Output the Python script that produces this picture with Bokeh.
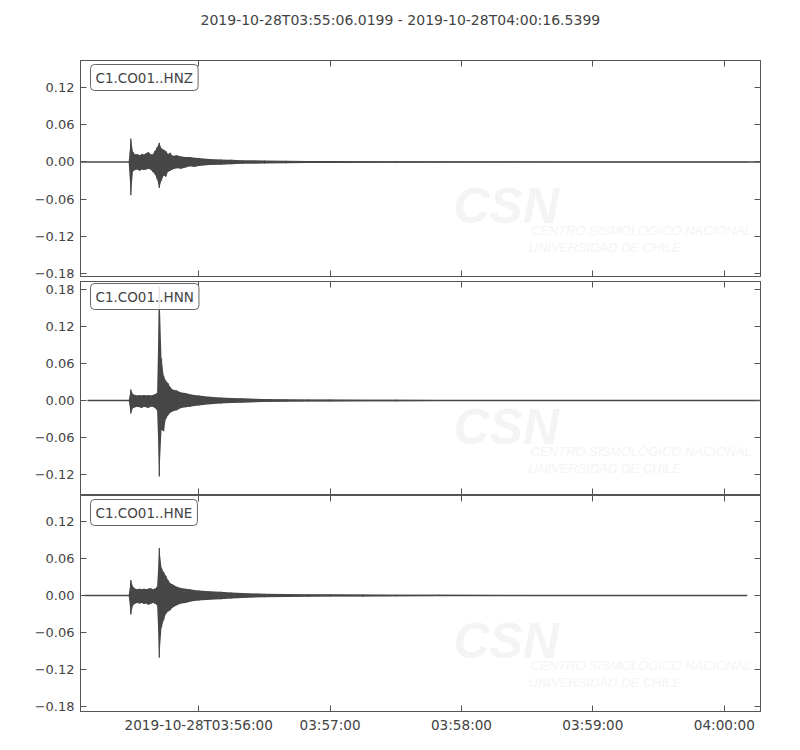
from bokeh.plotting import figure
from bokeh.models import (Range1d, FixedTicker, LinearAxis, Label,
                          CustomJSTickFormatter)
from bokeh.layouts import column
from bokeh.embed import file_html
from bokeh.resources import INLINE

# ---------------- data ----------------
title_text = "2019-10-28T03:55:06.0199  -  2019-10-28T04:00:16.5399"
channels = ["C1.CO01..HNZ", "C1.CO01..HNN", "C1.CO01..HNE"]

# time axis: seconds after 2019-10-28T03:55:00
t_start = 6.0199
t_end = 316.5399
trace_starts = [6.02, 9.2, 7.9]
trace_ends = [316.54, 316.54, 310.5]

x_tick_values = [60, 120, 180, 240, 300]
x_tick_labels = ["2019-10-28T03:56:00", "03:57:00", "03:58:00", "03:59:00", "04:00:00"]
y_tick_values = [-0.18, -0.12, -0.06, 0.0, 0.06, 0.12, 0.18]
y_limits = [(-0.1855, 0.1644), (-0.1523, 0.1928), (-0.188, 0.162)]

# min / max envelope of each trace (m/s^2) at these times
env_t = [28, 29, 30, 31, 32, 33, 34, 35, 36, 37, 38, 39, 40, 41, 42, 43, 44, 45, 46, 47, 48,
         50, 52, 54, 56, 58, 60,
         65, 70, 75, 80, 90, 100, 110, 120, 135, 150, 170, 200, 250, 310]

hnz_upper = [0, 0.038, 0.016, 0.012, 0.013, 0.011, 0.013, 0.012, 0.014, 0.016, 0.013, 0.012, 0.018, 0.024, 0.031, 0.022, 0.020, 0.018, 0.013, 0.015, 0.010,
             0.011, 0.009, 0.008, 0.008, 0.007, 0.0065,
             0.005, 0.004, 0.0035, 0.003, 0.0025, 0.002, 0.0018, 0.0015, 0.0012, 0.001, 0.0008, 0.0006, 0.0005, 0.0004]
hnz_lower = [0, -0.054, -0.015, -0.013, -0.012, -0.014, -0.012, -0.013, -0.012, -0.011, -0.012, -0.016, -0.020, -0.028, -0.042, -0.030, -0.022, -0.024, -0.016, -0.014, -0.012,
             -0.010, -0.011, -0.009, -0.007, -0.008, -0.0065,
             -0.005, -0.0045, -0.0035, -0.003, -0.0025, -0.002, -0.0018, -0.0015, -0.0012, -0.001, -0.0008, -0.0006, -0.0005, -0.0004]

hnn_upper = [0, 0.018, 0.010, 0.009, 0.008, 0.009, 0.008, 0.009, 0.008, 0.009, 0.008, 0.009, 0.010, 0.012, 0.185, 0.068, 0.040, 0.032, 0.028, 0.022, 0.018,
             0.016, 0.013, 0.012, 0.010, 0.009, 0.008,
             0.006, 0.005, 0.004, 0.0035, 0.0025, 0.002, 0.0018, 0.0015, 0.0013, 0.0011, 0.0009, 0.0007, 0.0005, 0.0004]
hnn_lower = [0, -0.021, -0.012, -0.011, -0.010, -0.011, -0.012, -0.010, -0.011, -0.012, -0.010, -0.010, -0.012, -0.016, -0.123, -0.048, -0.050, -0.030, -0.024, -0.020, -0.018,
             -0.016, -0.012, -0.011, -0.010, -0.009, -0.008,
             -0.006, -0.005, -0.004, -0.0035, -0.0025, -0.002, -0.0018, -0.0015, -0.0013, -0.0011, -0.0009, -0.0007, -0.0005, -0.0004]

hne_upper = [0, 0.025, 0.014, 0.011, 0.010, 0.011, 0.010, 0.011, 0.010, 0.011, 0.012, 0.010, 0.011, 0.014, 0.077, 0.045, 0.038, 0.032, 0.025, 0.020, 0.018,
             0.014, 0.012, 0.011, 0.010, 0.009, 0.008,
             0.007, 0.006, 0.005, 0.004, 0.003, 0.0025, 0.002, 0.0018, 0.0015, 0.0012, 0.001, 0.0008, 0.0006, 0.0005]
hne_lower = [0, -0.031, -0.016, -0.013, -0.012, -0.013, -0.012, -0.014, -0.013, -0.015, -0.014, -0.012, -0.013, -0.016, -0.101, -0.052, -0.040, -0.030, -0.026, -0.024, -0.020,
             -0.016, -0.013, -0.012, -0.010, -0.009, -0.008,
             -0.007, -0.006, -0.005, -0.004, -0.003, -0.0025, -0.002, -0.0018, -0.0015, -0.0012, -0.001, -0.0008, -0.0006, -0.0005]

uppers = [hnz_upper, hnn_upper, hne_upper]
lowers = [hnz_lower, hnn_lower, hne_lower]

watermark_logo = "CSN"
watermark_line1 = "CENTRO SISMOLÓGICO NACIONAL"
watermark_line2 = "UNIVERSIDAD DE CHILE"

# ---------------- style ----------------
FONT = "DejaVu Sans"
TEXT = "#444444"
FRAME = "#555555"
WAVE = "#474747"
WM = "#f4f4f4"
FRAME_W = 680
FRAME_HS = [216, 213, 216]
BORDER_TOP = [60, 0, 0]
BORDER_BOTTOM = [5, 1, 32]
LABEL_DY = [4, 2, 4]     # px from frame top to channel label
TITLE_GAP = 33           # space kept free between the first frame and the title
px_per_s = FRAME_W / (t_end - t_start)

yfmt = CustomJSTickFormatter(code="""
    return (tick < -1e-9 ? '\\u2212' : '') + Math.abs(tick).toFixed(2);
""")
xfmt = CustomJSTickFormatter(args=dict(vals=x_tick_values, labs=x_tick_labels), code="""
    for (let i = 0; i < vals.length; i++) { if (Math.abs(vals[i] - tick) < 1e-6) return labs[i]; }
    return '';
""")


def style_axis(ax, show_labels, standoff, size="13px"):
    ax.axis_line_color = FRAME
    ax.major_tick_line_color = FRAME
    ax.major_tick_in = 6
    ax.major_tick_out = 0
    ax.minor_tick_in = 0
    ax.minor_tick_out = 0
    ax.major_label_text_font = FONT
    if show_labels:
        ax.major_label_text_color = TEXT
        ax.major_label_text_font_size = size
    else:
        ax.major_label_text_color = None
        ax.major_label_text_font_size = "0px"
    ax.major_label_standoff = standoff


panels = []
for i in range(3):
    ymin, ymax = y_limits[i]
    fh = FRAME_HS[i]
    ypx = (ymax - ymin) / fh
    p = figure(frame_width=FRAME_W, frame_height=fh,
               x_range=Range1d(t_start, t_end), y_range=Range1d(ymin, ymax),
               x_axis_type=None, y_axis_type=None,
               output_backend="svg", toolbar_location=None,
               min_border_left=80, min_border_right=36,
               min_border_top=BORDER_TOP[i], min_border_bottom=BORDER_BOTTOM[i])
    p.outline_line_color = FRAME
    p.outline_line_width = 1
    p.background_fill_color = "white"
    p.border_fill_color = "white"

    left = LinearAxis(ticker=FixedTicker(ticks=y_tick_values), formatter=yfmt)
    style_axis(left, True, 6, "13px")
    p.add_layout(left, "left")
    right = LinearAxis(ticker=FixedTicker(ticks=y_tick_values), formatter=yfmt)
    style_axis(right, False, 0)
    p.add_layout(right, "right")
    below = LinearAxis(ticker=FixedTicker(ticks=x_tick_values), formatter=xfmt)
    style_axis(below, i == 2, 5 if i == 2 else 0, "13.6px")
    p.add_layout(below, "below")
    above = LinearAxis(ticker=FixedTicker(ticks=x_tick_values), formatter=xfmt)
    style_axis(above, False, 0)
    p.add_layout(above, "above")

    if i == 0:
        # invisible spacer axis that keeps the title away from the frame
        spacer = LinearAxis(ticker=FixedTicker(ticks=x_tick_values), formatter=xfmt)
        style_axis(spacer, False, 0)
        spacer.axis_line_color = None
        spacer.major_tick_line_color = None
        spacer.major_tick_in = 0
        spacer.major_tick_out = TITLE_GAP
        p.add_layout(spacer, "above")

        p.title.text = title_text
        p.title.align = "left"
        p.title.offset = 120
        p.title.text_font = FONT
        p.title.text_font_size = "14px"
        p.title.text_font_style = "normal"
        p.title.text_color = TEXT
        p.title.standoff = 0

    # watermark (very faint)
    p.add_layout(Label(x=t_start + 373 / px_per_s, y=ymax - 145 * ypx, text=watermark_logo,
                       text_font="Liberation Sans", text_font_style="bold italic",
                       text_font_size="50px", text_color=WM, text_baseline="alphabetic",
                       level="underlay"))
    p.add_layout(Label(x=t_start + 450 / px_per_s, y=ymax - 170 * ypx, text=watermark_line1,
                       text_font="Liberation Sans", text_font_style="italic",
                       text_font_size="13px", text_color=WM, text_baseline="alphabetic",
                       level="underlay"))
    p.add_layout(Label(x=t_start + 448 / px_per_s, y=ymax - 187 * ypx, text=watermark_line2,
                       text_font="Liberation Sans", text_font_style="italic",
                       text_font_size="13px", text_color=WM, text_baseline="alphabetic",
                       level="underlay"))

    # waveform: baseline + min/max envelope
    p.line(x=[trace_starts[i], trace_ends[i]], y=[0, 0], line_color=WAVE, line_width=1.3)
    p.varea(x=env_t, y1=lowers[i], y2=uppers[i], fill_color=WAVE)
    p.segment(x0=env_t, y0=lowers[i], x1=env_t, y1=uppers[i], line_color=WAVE, line_width=1.3)

    # channel label
    p.add_layout(Label(x=t_start + 10 / px_per_s, y=ymax - LABEL_DY[i] * ypx, text=channels[i],
                       text_font=FONT, text_font_size="13.5px", text_color=TEXT,
                       text_align="left", text_baseline="top",
                       padding=5, border_radius=4,
                       background_fill_color="white", background_fill_alpha=0.85,
                       border_line_color="#666666", border_line_width=1))
    panels.append(p)

layout = column(*panels, spacing=0)
open("out.html", "w").write(file_html(layout, INLINE))
